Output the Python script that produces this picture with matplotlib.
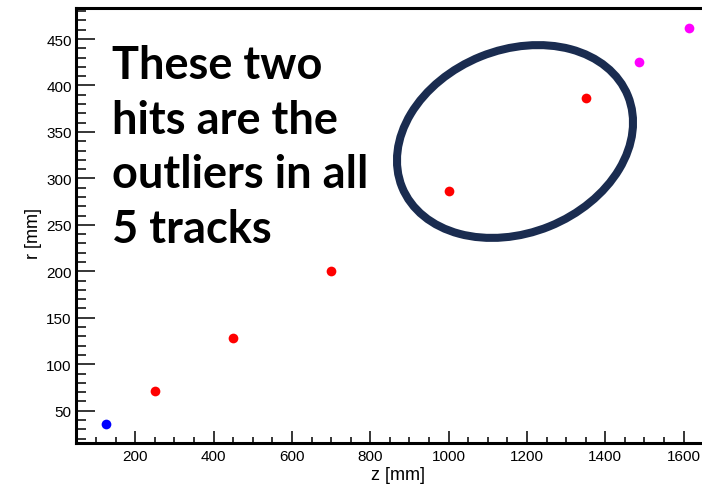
import numpy as np
import matplotlib
matplotlib.use('Agg')
import matplotlib.pyplot as plt
from matplotlib.patches import Ellipse
from matplotlib.ticker import MultipleLocator, FixedLocator
from matplotlib.transforms import IdentityTransform

# hit positions (z, r) in mm
z_blue = [125]
r_blue = [35.4]
z_red = [250, 450, 700, 1000, 1350]
r_red = [71, 128, 200, 286, 386]
z_mag = [1485, 1614]
r_mag = [425, 462]

x_ticks = [200, 400, 600, 800, 1000, 1200, 1400, 1600]
y_ticks = [50, 100, 150, 200, 250, 300, 350, 400, 450]

note = "These two\nhits are the\noutliers in all\n5 tracks"

W, H = 702, 485
fig = plt.figure(figsize=(W / 100, H / 100), dpi=100)
ax = fig.add_axes([76 / W, 41 / H, 626 / W, 435 / H])

ms = 7
ax.plot(z_blue, r_blue, 'o', color='#0000ff', ms=ms, mec='none')
ax.plot(z_red, r_red, 'o', color='#ff0000', ms=ms, mec='none')
ax.plot(z_mag, r_mag, 'o', color='#ff00ff', ms=ms, mec='none')

ax.xaxis.set_major_locator(FixedLocator(x_ticks))
ax.xaxis.set_minor_locator(MultipleLocator(50))
ax.yaxis.set_major_locator(FixedLocator(y_ticks))
ax.yaxis.set_minor_locator(MultipleLocator(10))
ax.set_xlim(48.5, 1647)
ax.set_ylim(15.2, 483.4)

ax.tick_params(which='both', direction='in', top=False, right=False,
               labelsize=11, width=1.1, color='black')
ax.tick_params(axis='x', which='major', length=9, pad=4)
ax.tick_params(axis='x', which='minor', length=4.5)
ax.tick_params(axis='y', which='major', length=14, pad=3)
ax.tick_params(axis='y', which='minor', length=7)
for lab in ax.get_xticklabels() + ax.get_yticklabels():
    lab.set_family('Liberation Sans')

for s in ['left', 'bottom', 'top']:
    ax.spines[s].set_linewidth(2.2)
ax.spines['right'].set_visible(False)

ax.set_xlabel('z [mm]', fontsize=13, family='Liberation Sans')
ax.set_ylabel('r [mm]', fontsize=13, family='Liberation Sans')
ax.xaxis.set_label_coords(0.514, -0.052)
ax.yaxis.set_label_coords(-0.054, 0.485)

# annotation text, last line baseline placed at the reference position
fig.text(112 / W, 1 - 243 / H, note, fontsize=32.5, fontweight='bold',
         family=['Lato', 'DejaVu Sans'], va='baseline', ha='left',
         linespacing=1.37, transform=fig.transFigure)

# ellipse around the two outliers, in pixel coordinates
ell = Ellipse((515, H - 142.5), 243.6, 183.2, angle=22, fill=False,
              edgecolor='#1a2c50', linewidth=5.8,
              transform=IdentityTransform())
fig.add_artist(ell)

fig.savefig('out.png', dpi=100)
